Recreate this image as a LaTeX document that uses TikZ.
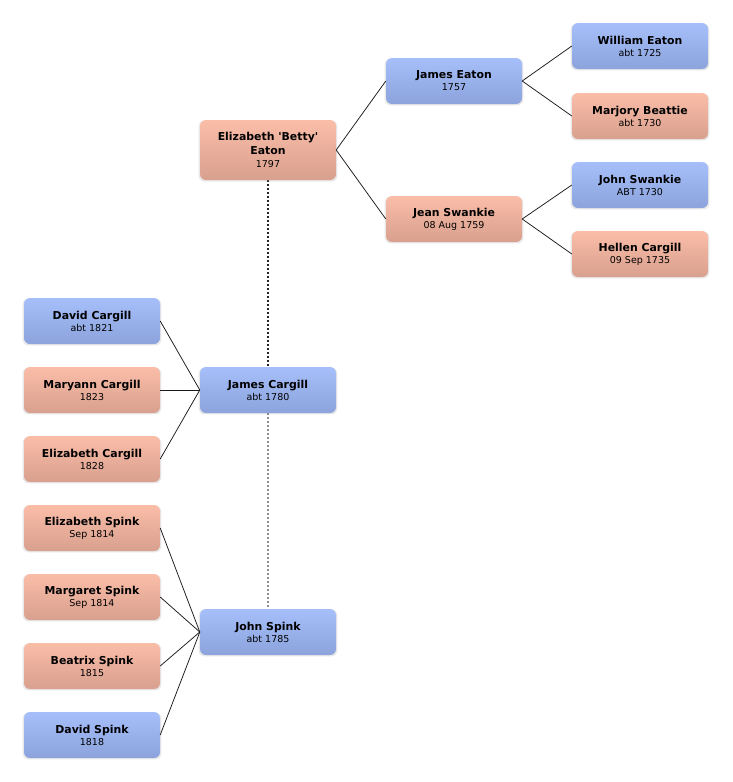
\documentclass[tikz,border=0pt]{standalone}
\usepackage{fontspec}
\setmainfont{DejaVu Sans}
\usetikzlibrary{shadows}
\definecolor{btop}{HTML}{A6BFFA}
\definecolor{bbot}{HTML}{8CA3DC}
\definecolor{stop}{HTML}{FABDA8}
\definecolor{sbot}{HTML}{D8A08E}
\tikzset{
  person/.style={rounded corners=6pt, minimum width=136pt, minimum height=46pt,
    inner sep=0pt, align=center, draw=none,
    drop shadow={opacity=0.18, shadow xshift=0pt, shadow yshift=-1pt, shadow scale=1.02}},
  male/.style={person, top color=btop, bottom color=bbot},
  female/.style={person, top color=stop, bottom color=sbot},
  link/.style={draw=black!90, line width=0.75pt},
  dotline/.style={line width=1.4pt, dash pattern=on 2pt off 2pt},
}
\newcommand{\nm}[1]{{\fontsize{10.9}{13}\selectfont\bfseries #1}}
\newcommand{\dt}[1]{{\fontsize{9.5}{13}\selectfont #1}}
\begin{document}
\begin{tikzpicture}[x=1pt,y=-1pt]
\useasboundingbox (0,0) rectangle (732,782);
% dotted spouse lines (drawn first, behind boxes)
\coordinate (b1) at (268,180);
\coordinate (j1) at (268,367);
\coordinate (j2) at (268,413);
\coordinate (s1) at (268,609);
\draw[dotline, black!85] (b1) -- (j1);
\draw[dotline, black!45] (j2) -- (s1);
% nodes
\node[female, minimum height=60pt] (betty) at (268,150) {\nm{Elizabeth \textquotesingle Betty\textquotesingle}\\[2.5pt]\nm{Eaton}\\[1pt]\dt{1797}};
\node[male] (jeaton) at (454,81) {\nm{James Eaton}\\\dt{1757}};
\node[female] (jswankie) at (454,219) {\nm{Jean Swankie}\\\dt{08 Aug 1759}};
\node[male] (weaton) at (640,46) {\nm{William Eaton}\\\dt{abt 1725}};
\node[female] (mbeattie) at (640,116) {\nm{Marjory Beattie}\\\dt{abt 1730}};
\node[male] (joswankie) at (640,185) {\nm{John Swankie}\\\dt{ABT 1730}};
\node[female] (hcargill) at (640,254) {\nm{Hellen Cargill}\\\dt{09 Sep 1735}};
\node[male] (jcargill) at (268,390) {\nm{James Cargill}\\\dt{abt 1780}};
\node[male] (jspink) at (268,632) {\nm{John Spink}\\\dt{abt 1785}};
\node[male] (dcargill) at (92,321) {\nm{David Cargill}\\\dt{abt 1821}};
\node[female] (mcargill) at (92,390) {\nm{Maryann Cargill}\\\dt{1823}};
\node[female] (ecargill) at (92,459) {\nm{Elizabeth Cargill}\\\dt{1828}};
\node[female] (espink) at (92,528) {\nm{Elizabeth Spink}\\\dt{Sep 1814}};
\node[female] (mspink) at (92,597) {\nm{Margaret Spink}\\\dt{Sep 1814}};
\node[female] (bspink) at (92,666) {\nm{Beatrix Spink}\\\dt{1815}};
\node[male] (dspink) at (92,735) {\nm{David Spink}\\\dt{1818}};
% connectors
\draw[link] (betty.east) -- (jeaton.west);
\draw[link] (betty.east) -- (jswankie.west);
\draw[link] (jeaton.east) -- (weaton.west);
\draw[link] (jeaton.east) -- (mbeattie.west);
\draw[link] (jswankie.east) -- (joswankie.west);
\draw[link] (jswankie.east) -- (hcargill.west);
\draw[link] (dcargill.east) -- (jcargill.west);
\draw[link] (mcargill.east) -- (jcargill.west);
\draw[link] (ecargill.east) -- (jcargill.west);
\draw[link] (espink.east) -- (jspink.west);
\draw[link] (mspink.east) -- (jspink.west);
\draw[link] (bspink.east) -- (jspink.west);
\draw[link] (dspink.east) -- (jspink.west);
\end{tikzpicture}
\end{document}
